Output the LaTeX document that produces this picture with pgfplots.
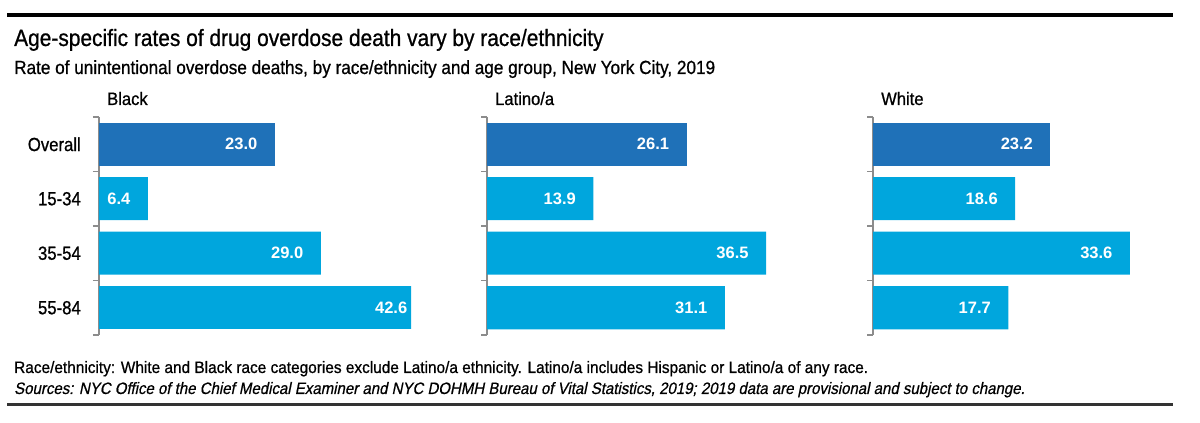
\documentclass[border=0pt]{standalone}
\usepackage{pgfplots}
\pgfplotsset{compat=1.18}
\usepackage{fontspec}
\setmainfont{Liberation Sans}
\newcommand\cf[1]{\fontspec[FakeStretch=#1,FakeBold=0.8]{Liberation Sans}}
\newcommand\cfi[1]{\fontspec[FakeStretch=#1,FakeBold=0.6,FakeSlant=0.2]{Liberation Sans}}
\definecolor{darkbar}{HTML}{1F71B8}
\definecolor{lightbar}{HTML}{00A6DD}
\definecolor{axgray}{HTML}{8C8C8C}

\tikzset{
  barlabel/.style={anchor=east, xshift=-14pt, text=white,
      font=\bfseries\fontsize{16.5}{16.5}\selectfont,
      /pgf/number format/fixed, /pgf/number format/zerofill,
      /pgf/number format/precision=1, /pgf/number format/assume math mode=true},
}

\pgfplotsset{
  panel/.style={
    xbar, bar shift=0pt, bar width=43pt,
    scale only axis, width=312pt, height=218pt,
    anchor=south west,
    xmin=0, xmax=40.8,
    ymin=-0.5, ymax=3.5, y dir=reverse,
    clip mode=individual,
    axis x line=none, axis y line=left,
    axis line style={-, draw=axgray, line width=1.4pt},
    ytick={0,1,2,3},
    minor ytick={-0.5,0.5,1.5,2.5,3.5},
    major tick length=0pt, minor tick length=6pt,
    tick align=outside,
    tick style={draw=axgray, line width=1.4pt},
    yticklabel style={font=\cf{0.88}\fontsize{19}{19}\selectfont, inner xsep=0pt, xshift=-18pt},
    title style={at={(0,1)}, anchor=base west, xshift=8pt, yshift=6pt,
      inner sep=0pt, font=\cf{0.92}\fontsize{18}{18}\selectfont},
    point meta=x,
    nodes near coords,
    every node near coord/.append style={barlabel},
  },
}

\begin{document}
\begin{tikzpicture}
\useasboundingbox (0pt,0pt) rectangle (1200pt,423pt);

% rules
\draw[line width=4pt, black] (7pt,408pt) -- (1173pt,408pt);
\draw[line width=2.5pt, black!80] (7pt,18.5pt) -- (1173pt,18.5pt);

% titles
\node[anchor=base west, inner sep=0pt, font=\cf{0.89}\fontsize{23.5}{23.5}\selectfont] at (14pt,377pt)
  {Age-specific rates of drug overdose death vary by race/ethnicity};
\node[anchor=base west, inner sep=0pt, font=\cf{0.903}\fontsize{19}{19}\selectfont] at (14pt,349pt)
  {Rate of unintentional overdose deaths, by race/ethnicity and age group, New York City, 2019};

% Black (the 55-84 bar runs past the axis end and is cut off there)
\begin{axis}[panel, at={(99pt,88pt)}, title={Black},
  yticklabels={Overall,15-34,35-54,55-84}]
\addplot[fill=darkbar, draw=none] coordinates {(23.0,0)};
\addplot[fill=lightbar, draw=none] coordinates {(6.4,1) (29.0,2)};
\addplot[fill=lightbar, draw=none, nodes near coords=\empty] coordinates {(42.6,3)};
\node[barlabel] at (axis cs:42.6,3) {42.6};
\end{axis}

% Latino/a
\begin{axis}[panel, at={(487pt,88pt)}, title={Latino/a}, yticklabels={}]
\addplot[fill=darkbar, draw=none] coordinates {(26.1,0)};
\addplot[fill=lightbar, draw=none] coordinates {(13.9,1) (36.5,2) (31.1,3)};
\end{axis}

% White
\begin{axis}[panel, at={(873pt,88pt)}, title={White}, yticklabels={}]
\addplot[fill=darkbar, draw=none] coordinates {(23.2,0)};
\addplot[fill=lightbar, draw=none] coordinates {(18.6,1) (33.6,2) (17.7,3)};
\end{axis}

% notes
\node[anchor=base west, inner sep=0pt, font=\cf{0.933}\fontsize{16.5}{16.5}\selectfont] at (14pt,50pt)
  {Race/ethnicity: White and Black race categories exclude Latino/a ethnicity. Latino/a includes Hispanic or Latino/a of any race.};
\node[anchor=base west, inner sep=0pt, font=\cfi{0.91}\fontsize{16.5}{16.5}\selectfont] at (14pt,29pt)
  {Sources: NYC Office of the Chief Medical Examiner and NYC DOHMH Bureau of Vital Statistics, 2019; 2019 data are provisional and subject to change.};
\end{tikzpicture}
\end{document}
